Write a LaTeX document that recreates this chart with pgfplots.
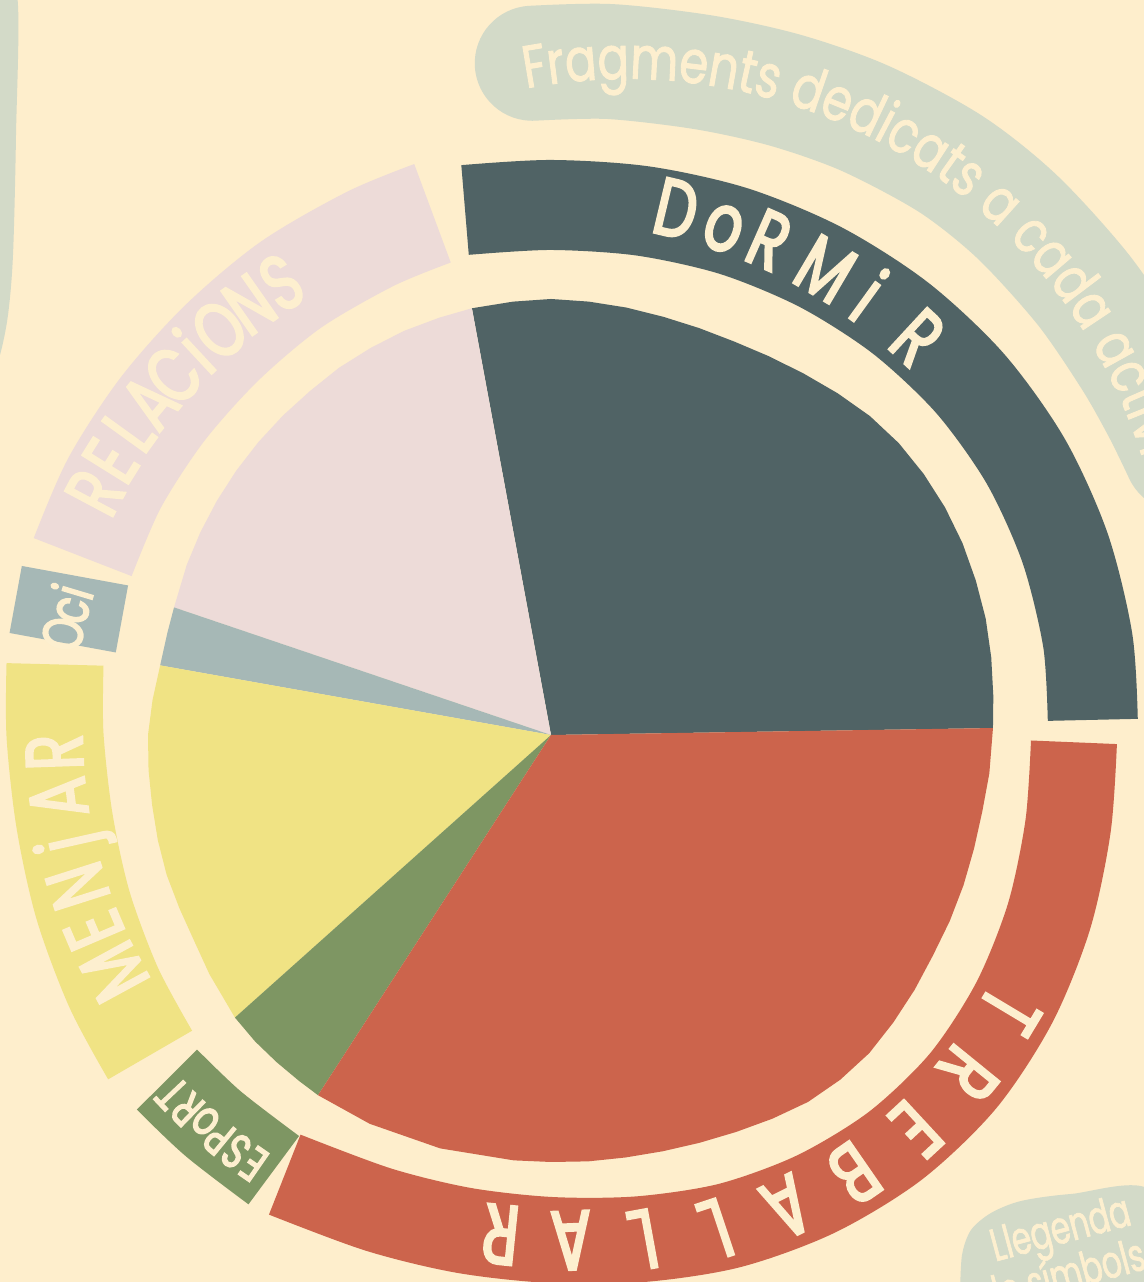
\documentclass[border=0pt]{standalone}
\usepackage{pgfplots}
\pgfplotsset{compat=1.18}
\usepackage{fontspec}
\setmainfont{Poppins}
\newfontfamily\hand[FakeStretch=0.72,FakeBold=3]{Poppins}
\newfontfamily\handb[FakeStretch=0.78,FakeBold=1.5]{Poppins}
\newfontfamily\handc[FakeStretch=0.68,FakeBold=1.5]{Poppins}
\usetikzlibrary{decorations.text}
\definecolor{bg}{HTML}{FEEECC}
\definecolor{cream}{HTML}{FDEFCF}
\definecolor{cDormir}{HTML}{506365}
\definecolor{cTreballar}{HTML}{CC644C}
\definecolor{cEsport}{HTML}{7E9663}
\definecolor{cMenjar}{HTML}{F0E384}
\definecolor{cOci}{HTML}{A6B8B6}
\definecolor{cRelacions}{HTML}{EDDBD8}
\definecolor{cBubble}{HTML}{D3DAC8}
\begin{document}
\begin{tikzpicture}
\useasboundingbox (0,0) rectangle (11.44,12.82);
\clip (0,0) rectangle (11.44,12.82);
\fill[bg] (0,0) rectangle (11.44,12.82);
\begin{axis}[scale only axis, width=11.44cm, height=12.82cm,
  xmin=-551, xmax=593, ymin=-547, ymax=735, hide axis,
  every axis plot/.append style={line join=round}]
% side bubbles
\addplot[fill=cBubble, draw=none, smooth] coordinates {(-560,740) (-534,740) (-535,600) (-538,480) (-543,420) (-551,380) (-560,360)} -- cycle;
\addplot[fill=cBubble, draw=none, smooth] coordinates {(409,-560) (411,-520) (420,-495) (440,-478) (470,-466) (520,-459) (600,-456) (610,-560)} -- cycle;
% big label bubble
\addplot[draw=cBubble, line width=1.15cm, line cap=round, data cs=polar, smooth] coordinates {(91.6,672) (85,676) (77,680) (70,686) (63,692) (55,697) (48,697) (40,694) (33,691) (28,690) (24,690)};
% outer bands (angle, radius)
\addplot[draw=cDormir, line width=0.9cm, data cs=polar, smooth] coordinates {(99.3,532) (90,530) (80,532) (70,536) (60,540) (50,544) (40,547) (30,548) (20,547) (10,545) (1.6,542)};
\addplot[draw=cTreballar, line width=0.86cm, data cs=polar, smooth] coordinates {(-0.8,523) (-10,525) (-20,530) (-30,535) (-40,538) (-50,536) (-60,530) (-70,522) (-80,512) (-90,505) (-100,503) (-110,505) (-121.2,514)};
\addplot[draw=cEsport, line width=0.85cm, data cs=polar, smooth] coordinates {(221.9,516) (229,515) (237.5,516)};
\addplot[draw=cMenjar, line width=0.97cm, data cs=polar, smooth] coordinates {(171.9,501) (180,496) (190,494) (200,498) (210,505) (218.6,513)};
\addplot[draw=cOci, line width=1.08cm, data cs=polar, smooth] coordinates {(161.5,502) (169.3,497)};
\addplot[draw=cRelacions, line width=1.05cm, data cs=polar, smooth] coordinates {(102.8,535) (110,528) (120,520) (130,512) (140,507) (150,504) (159.2,501)};
% pie slices (angle, radius)
\addplot[fill=cDormir, draw=none, data cs=polar] coordinates {(0,0) (0.9,442) (5,444) (10,447) (15,450) (20,452) (25,454) (30,455) (35,455) (40,454) (45,451) (50,446) (55,441) (60,437) (65,434) (70,433) (75,433) (80,434) (85,435) (90,436) (95,435) (100.5,434)} -- cycle;
\addplot[fill=cRelacions, draw=none, data cs=polar] coordinates {(0,0) (100.5,434) (105,432) (110,430) (115,427) (120,424) (125,420) (130,417) (135,414) (140,411) (145,408) (150,405) (155,402) (161.3,398)} -- cycle;
\addplot[fill=cOci, draw=none, data cs=polar] coordinates {(0,0) (161.3,398) (165,397) (169.9,397)} -- cycle;
\addplot[fill=cMenjar, draw=none, data cs=polar] coordinates {(0,0) (169.9,397) (175,400) (180,403) (185,404) (190,405) (195,407) (200,409) (205,410) (210,412) (215,417) (221.8,424)} -- cycle;
\addplot[fill=cEsport, draw=none, data cs=polar] coordinates {(0,0) (221.8,424) (226,426) (230,427) (234,428) (237.1,429)} -- cycle;
\addplot[fill=cTreballar, draw=none, data cs=polar] coordinates {(0,0) (237.1,429) (245,429) (255,428) (265,427) (270,427) (275,428) (280,429) (285,431) (290,434) (295,438) (300,443) (305,448) (310,450) (315,450) (320,447) (325,444) (330,441) (335,440) (340,439) (345,438) (350,438) (355,440) (360.9,442)} -- cycle;
\end{axis}
\begin{scope}[shift={(5.51,5.47)}, x=0.01cm, y=0.01cm]
\path[decorate, decoration={text along path, text color=cream, text align=left,
  text={|\handb\fontsize{17}{17}\selectfont|Fragments dedicats a cada activitat}}]
  (75.5,115.6) ++(100.7:540.8) arc[start angle=100.7, end angle=-10, radius=5.408cm];
\foreach \a/\rr/\ch in {76.6/513/D, 71.2/513/o, 66.2/513/R, 59.5/513/M, 54.1/513/i, 47.3/513/R}
  \node[font=\hand\fontsize{23}{23}\selectfont, text=cream, rotate=\a-90, anchor=base, inner sep=0pt] at (\a:\rr) {\ch};
\foreach \a/\rr/\ch in {-31/506/T, -39.1/508/R, -47.2/508/E, -55.3/504/B, -63.4/499/A, -71.5/492/L, -79.6/484/L, -87.7/477/A, -95.8/473/R}
  \node[font=\hand\fontsize{24}{24}\selectfont, text=cream, rotate=\a-90, anchor=base, inner sep=0pt] at (\a:\rr) {\ch};
\foreach \a/\rr/\ch in {208.5/469/M, 203.1/469/E, 197.7/469/N, 192.6/469/j, 187.3/469/A, 182/469/R}
  \node[font=\hand\fontsize{23}{23}\selectfont, text=cream, rotate=\a-90, anchor=base, inner sep=0pt] at (\a:\rr) {\ch};
\foreach \a/\rr/\ch in {152/490/R, 148.1/492/E, 144.2/494/L, 140.3/495/A, 136.4/495/C, 132.9/496/i, 129.3/497/O, 125/499/N, 120.8/500/S}
  \node[font=\hand\fontsize{22}{22}\selectfont, text=cream, rotate=\a-90, anchor=base, inner sep=0pt] at (\a:\rr) {\ch};
\foreach \a/\rr/\ch in {168.3/479/O, 165.4/479/c, 163.3/479/i}
  \node[font=\hand\fontsize{16}{16}\selectfont, text=cream, rotate=\a-90, anchor=base, inner sep=0pt] at (\a:\rr) {\ch};
\foreach \a/\rr/\ch in {235.3/505/E, 232.9/505/S, 230.5/505/P, 228.2/505/o, 225.8/505/R, 223.4/505/T}
  \node[font=\hand\fontsize{14}{14}\selectfont, text=cream, rotate=\a-90, anchor=base, inner sep=0pt] at (\a:\rr) {\ch};
\node[font=\handc\fontsize{13}{13}\selectfont, text=cream, rotate=15, anchor=base west, inner sep=0pt] at (444,-527) {Llegenda};
\node[font=\handc\fontsize{13}{13}\selectfont, text=cream, rotate=15, anchor=base west, inner sep=0pt] at (433,-578) {de símbols};
\end{scope}
\end{tikzpicture}
\end{document}
